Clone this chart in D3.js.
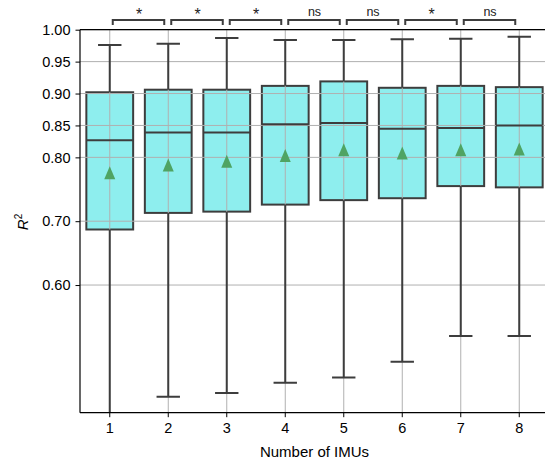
<!DOCTYPE html>
<html>
<head>
<meta charset="utf-8">
<script src="https://cdn.jsdelivr.net/npm/d3@7"></script>
<style>
  body { margin: 0; background: #fff; }
  text { font-family: "Liberation Sans", Arial, sans-serif; }
</style>
</head>
<body>
<svg id="chart" width="545" height="464"></svg>
<script>
// number of IMUs on the x axis
var categories = [1, 2, 3, 4, 5, 6, 7, 8];

// box statistics (R^2)
var whisk_lo = [0.35, 0.425, 0.431, 0.447, 0.455, 0.480, 0.520, 0.520];
var q1       = [0.687, 0.713, 0.715, 0.726, 0.733, 0.736, 0.755, 0.753];
var medians  = [0.827, 0.839, 0.839, 0.852, 0.854, 0.845, 0.846, 0.850];
var q3       = [0.902, 0.906, 0.906, 0.912, 0.919, 0.909, 0.912, 0.910];
var whisk_hi = [0.976, 0.978, 0.987, 0.984, 0.984, 0.985, 0.986, 0.989];
var means    = [0.776, 0.788, 0.794, 0.803, 0.812, 0.807, 0.812, 0.813];

// significance between neighbouring groups
var sig_labels = ["*", "*", "*", "ns", "ns", "*", "ns"];

var y_ticks = [0.60, 0.70, 0.80, 0.85, 0.90, 0.95, 1.00];

var WIDTH = 545, HEIGHT = 464;
var LEFT = 80, TOP = 29.7, BOTTOM = 412.7;
var BOX_COLOR = "#8eeeee";
var EDGE = "#3d3d3d";
var GRID = "#b0b0b0";
var FONT = "Liberation Sans, Arial, sans-serif";

var svg = d3.select("#chart");

var x = d3.scaleBand()
    .domain(categories)
    .range([LEFT + 0.5, LEFT + 0.5 + 58.5 * categories.length])
    .paddingInner(0).paddingOuter(0);

var y = d3.scaleLinear()
    .domain([0.40, 1.00])
    .range([BOTTOM, TOP]);

var boxW = x.bandwidth() * 0.8;
function cx(d) { return x(d) + x.bandwidth() / 2; }

var stats = categories.map(function(c, i) {
    return {cat: c, lo: whisk_lo[i], q1: q1[i], med: medians[i], q3: q3[i], hi: whisk_hi[i], mean: means[i]};
});

svg.append("defs").append("clipPath").attr("id", "plotclip")
    .append("rect").attr("x", LEFT).attr("y", TOP)
    .attr("width", WIDTH - LEFT).attr("height", BOTTOM - TOP);

var plot = svg.append("g").attr("clip-path", "url(#plotclip)");

// boxes (patches, under the grid)
plot.selectAll("rect.box").data(stats).enter().append("rect")
    .attr("class", "box")
    .attr("x", function(d) { return cx(d.cat) - boxW / 2; })
    .attr("y", function(d) { return y(d.q3); })
    .attr("width", boxW)
    .attr("height", function(d) { return y(d.q1) - y(d.q3); })
    .attr("fill", BOX_COLOR)
    .attr("stroke", EDGE)
    .attr("stroke-width", 2);

// grid
var grid = plot.append("g");
grid.selectAll("line.hg").data(y_ticks).enter().append("line")
    .attr("x1", LEFT).attr("x2", WIDTH)
    .attr("y1", function(d) { return y(d); })
    .attr("y2", function(d) { return y(d); })
    .attr("stroke", GRID).attr("stroke-width", 1);
grid.selectAll("line.vg").data(categories).enter().append("line")
    .attr("x1", cx).attr("x2", cx)
    .attr("y1", TOP).attr("y2", BOTTOM)
    .attr("stroke", GRID).attr("stroke-width", 1);

// whiskers
plot.selectAll("line.wlo").data(stats).enter().append("line")
    .attr("x1", function(d) { return cx(d.cat); })
    .attr("x2", function(d) { return cx(d.cat); })
    .attr("y1", function(d) { return y(d.q1); })
    .attr("y2", function(d) { return y(d.lo); })
    .attr("stroke", EDGE).attr("stroke-width", 2);
plot.selectAll("line.whi").data(stats).enter().append("line")
    .attr("x1", function(d) { return cx(d.cat); })
    .attr("x2", function(d) { return cx(d.cat); })
    .attr("y1", function(d) { return y(d.q3); })
    .attr("y2", function(d) { return y(d.hi); })
    .attr("stroke", EDGE).attr("stroke-width", 2);

// caps
var capW = boxW / 2;
["lo", "hi"].forEach(function(k) {
    plot.selectAll("line.cap" + k).data(stats).enter().append("line")
        .attr("x1", function(d) { return cx(d.cat) - capW / 2; })
        .attr("x2", function(d) { return cx(d.cat) + capW / 2; })
        .attr("y1", function(d) { return y(d[k]); })
        .attr("y2", function(d) { return y(d[k]); })
        .attr("stroke", EDGE).attr("stroke-width", 2);
});

// medians
plot.selectAll("line.med").data(stats).enter().append("line")
    .attr("x1", function(d) { return cx(d.cat) - boxW / 2; })
    .attr("x2", function(d) { return cx(d.cat) + boxW / 2; })
    .attr("y1", function(d) { return y(d.med); })
    .attr("y2", function(d) { return y(d.med); })
    .attr("stroke", EDGE).attr("stroke-width", 2);

// means
plot.selectAll("path.mean").data(stats).enter().append("path")
    .attr("d", function(d) {
        var px = cx(d.cat), py = y(d.mean);
        return "M" + px + "," + (py - 6.5) + "L" + (px + 5.5) + "," + (py + 6.5) +
               "L" + (px - 5.5) + "," + (py + 6.5) + "Z";
    })
    .attr("fill", "#4fa463");

// axes
var yAxis = svg.append("g")
    .attr("transform", "translate(" + LEFT + ",0)")
    .call(d3.axisLeft(y).tickValues(y_ticks).tickFormat(d3.format(".2f")).tickSizeOuter(0).tickSize(4.5).tickPadding(5));
yAxis.select(".domain").remove();
yAxis.selectAll("text").attr("font-size", 14.5).attr("fill", "#000").attr("font-family", FONT);
yAxis.selectAll("line").attr("stroke", "#000").attr("stroke-width", 1);

var xAxis = svg.append("g")
    .attr("transform", "translate(0," + BOTTOM + ")")
    .call(d3.axisBottom(x).tickSizeOuter(0).tickSize(4.5).tickPadding(6));
xAxis.select(".domain").remove();
xAxis.selectAll("text").attr("font-size", 14.5).attr("fill", "#000").attr("font-family", FONT);
xAxis.selectAll("line").attr("stroke", "#000").attr("stroke-width", 1);

// spines
svg.append("line").attr("x1", LEFT).attr("x2", LEFT).attr("y1", TOP).attr("y2", BOTTOM)
    .attr("stroke", "#000").attr("stroke-width", 1.2);
svg.append("line").attr("x1", LEFT).attr("x2", WIDTH).attr("y1", TOP).attr("y2", TOP)
    .attr("stroke", "#000").attr("stroke-width", 1.2);
svg.append("line").attr("x1", LEFT).attr("x2", WIDTH).attr("y1", BOTTOM).attr("y2", BOTTOM)
    .attr("stroke", "#000").attr("stroke-width", 1.2);

// significance brackets
var brackets = sig_labels.map(function(s, i) {
    return {a: categories[i], b: categories[i + 1], label: s};
});
var br = svg.append("g");
br.selectAll("path").data(brackets).enter().append("path")
    .attr("d", function(d) {
        var x1 = cx(d.a) + 3, x2 = cx(d.b) - 4;
        return "M" + x1 + ",25L" + x1 + ",20L" + x2 + ",20L" + x2 + ",25";
    })
    .attr("fill", "none").attr("stroke", EDGE).attr("stroke-width", 2);
br.selectAll("text").data(brackets).enter().append("text")
    .attr("x", function(d) { return (cx(d.a) + cx(d.b)) / 2; })
    .attr("y", function(d) { return d.label === "*" ? 20 : 16; })
    .attr("text-anchor", "middle")
    .attr("font-size", function(d) { return d.label === "*" ? 16 : 12.5; })
    .attr("fill", "#222")
    .attr("font-family", FONT)
    .text(function(d) { return d.label; });

// axis labels
svg.append("text")
    .attr("x", (x.range()[0] + x.range()[1]) / 2).attr("y", 457)
    .attr("text-anchor", "middle").attr("font-size", 15).attr("font-family", FONT)
    .text("Number of IMUs");

var yl = svg.append("text")
    .attr("transform", "translate(28,222) rotate(-90)")
    .attr("text-anchor", "middle").attr("font-size", 15).attr("font-family", FONT);
yl.append("tspan").attr("font-style", "italic").text("R");
yl.append("tspan").attr("font-size", 10).attr("dy", -6).text("2");
</script>
</body>
</html>
